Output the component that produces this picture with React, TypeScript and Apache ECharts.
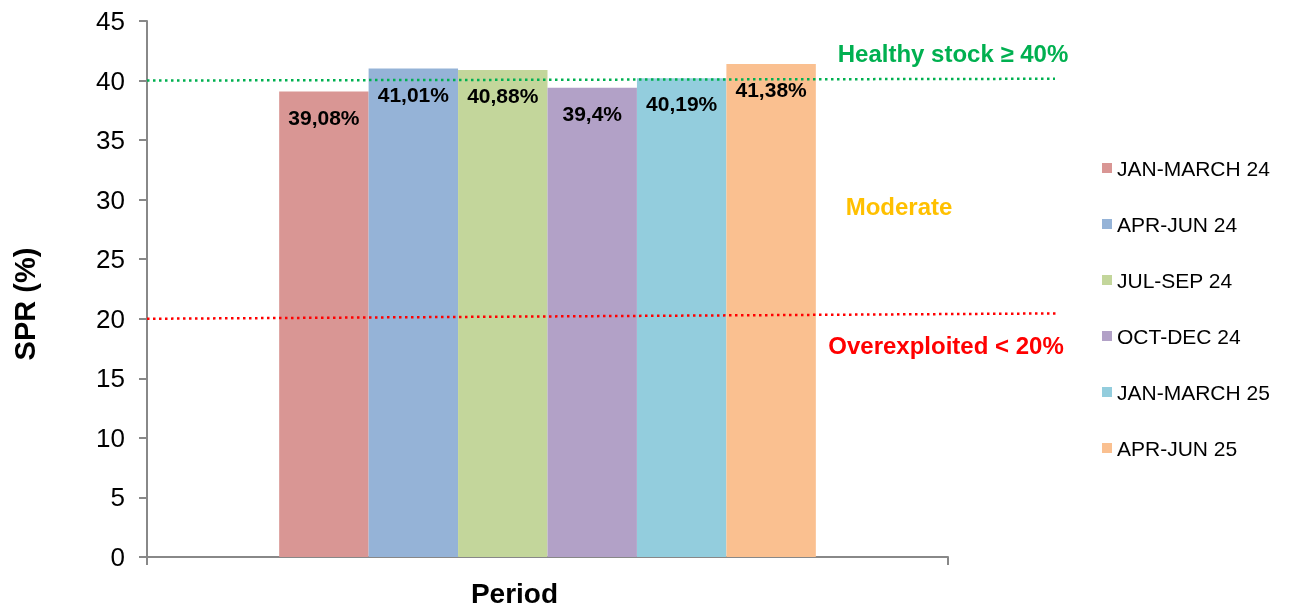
import React, { useEffect, useRef } from "react";
import * as echarts from "echarts";

const categories = [""];
const seriesNames = ["JAN-MARCH 24", "APR-JUN 24", "JUL-SEP 24", "OCT-DEC 24", "JAN-MARCH 25", "APR-JUN 25"];
const seriesValues = [39.08, 41.01, 40.88, 39.4, 40.19, 41.38];
const seriesColors = ["#D99694", "#95B3D7", "#C3D69B", "#B2A1C7", "#93CDDD", "#FAC090"];
const yTicks = { min: 0, max: 45, interval: 5 };
// threshold lines: value at left end and right end (lines are slightly tilted in the reference)
const healthyLine = [40, 40.15];
const overLine = [20, 20.45];
const moderateValue = 29.4;

const FONT = "'Liberation Sans', Arial, sans-serif";

export default function App() {
  const ref = useRef<HTMLDivElement>(null);
  useEffect(() => {
    if (!ref.current) return;
    const chart = echarts.init(ref.current, null, { renderer: "svg" });
    chart.setOption({
      animation: false,
      textStyle: { fontFamily: FONT },
      grid: { left: 147, right: 341, top: 21, bottom: 51, containLabel: false },
      legend: {
        orient: "vertical",
        left: 1097,
        top: 151,
        itemWidth: 10,
        itemHeight: 10,
        itemGap: 32,
        icon: "rect",
        textStyle: { fontSize: 21, color: "#000", fontFamily: FONT, lineHeight: 24 },
        data: seriesNames,
      },
      xAxis: {
        type: "category",
        data: categories,
        name: "Period",
        nameLocation: "middle",
        nameGap: 22,
        nameTextStyle: { fontSize: 28, fontWeight: "bold", color: "#000", fontFamily: FONT, padding: [0, 66, 0, 0] },
        axisLine: { lineStyle: { color: "#888", width: 2 } },
        axisTick: { show: true, length: 8, lineStyle: { color: "#888", width: 2 } },
        axisLabel: { show: false },
      },
      yAxis: {
        type: "value",
        min: yTicks.min,
        max: yTicks.max,
        interval: yTicks.interval,
        name: "SPR (%)",
        nameLocation: "middle",
        nameGap: 108,
        nameTextStyle: { fontSize: 29, fontWeight: "bold", color: "#000", fontFamily: FONT, padding: [0, 30, 0, 0] },
        axisLine: { show: true, lineStyle: { color: "#888", width: 2 } },
        axisTick: { show: true, length: 8, lineStyle: { color: "#888", width: 2 } },
        axisLabel: { fontSize: 26, color: "#000", margin: 22, fontFamily: FONT },
        splitLine: { show: false },
      },
      series: seriesNames.map((name, i) => ({
        type: "bar",
        name,
        data: [seriesValues[i]],
        barGap: "0%",
        barCategoryGap: "33%",
        itemStyle: { color: seriesColors[i] },
        label: {
          show: true,
          position: "insideTop",
          distance: 15,
          fontSize: 21,
          fontWeight: "bold",
          color: "#000",
          fontFamily: FONT,
          formatter: (p: any) => String(p.value).replace(".", ",") + "%",
        },
      })),
    });

    const y = (v: number) => chart.convertToPixel({ yAxisIndex: 0 }, v) as number;
    const leftX = 147;
    chart.setOption({
      graphic: [
        {
          type: "line",
          shape: { x1: leftX, y1: y(healthyLine[0]), x2: 1055, y2: y(healthyLine[1]) },
          style: { stroke: "#00B050", lineWidth: 2.5, lineDash: [2.5, 3.5] },
          z: 10,
        },
        {
          type: "line",
          shape: { x1: leftX, y1: y(overLine[0]), x2: 1058, y2: y(overLine[1]) },
          style: { stroke: "#FF0000", lineWidth: 2.5, lineDash: [2.5, 3.5] },
          z: 10,
        },
        {
          type: "text",
          x: 953,
          y: 53,
          style: { text: "Healthy stock ≥ 40%", fill: "#00B050", font: `bold 24px ${FONT}`, textAlign: "center", textVerticalAlign: "middle" },
        },
        {
          type: "text",
          x: 899,
          y: y(moderateValue),
          style: { text: "Moderate", fill: "#FFC000", font: `bold 24px ${FONT}`, textAlign: "center", textVerticalAlign: "middle" },
        },
        {
          type: "text",
          x: 946,
          y: 345,
          style: { text: "Overexploited < 20%", fill: "#FF0000", font: `bold 24px ${FONT}`, textAlign: "center", textVerticalAlign: "middle" },
        },
      ],
    });
    return () => chart.dispose();
  }, []);
  return <div ref={ref} style={{ position: "fixed", left: 0, top: 0, width: 1289, height: 612 }} />;
}
